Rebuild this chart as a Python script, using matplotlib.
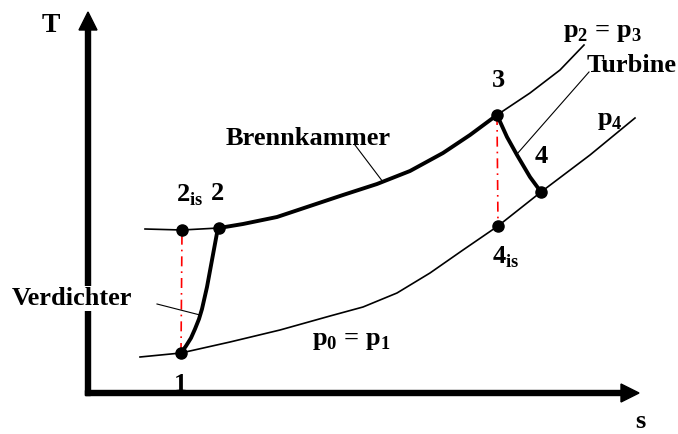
import matplotlib.pyplot as plt

plt.rcParams['font.family'] = 'Liberation Serif'
plt.rcParams['font.weight'] = 'bold'
plt.rcParams['mathtext.fontset'] = 'custom'
plt.rcParams['mathtext.rm'] = 'Liberation Serif:bold'
plt.rcParams['mathtext.bf'] = 'Liberation Serif:bold'

# state points (s, T) in diagram units, origin at the axis corner
pts = {'1': (93, 40), '2is': (94, 163), '2': (131, 165),
       '3': (409, 278), '4': (453, 201), '4is': (410, 167)}

# isobar p0 = p1 (= p4)
s_low = [52, 93, 142, 192, 242, 275, 309, 342, 375, 410, 453, 502, 547]
T_low = [36, 40, 51, 63, 77, 86, 100, 120, 143, 167, 201, 238, 275]

# isobar p2 = p3
s_high_a = [57, 94, 131]
T_high_a = [164, 163, 165]
s_burn = [131, 155, 189, 222, 255, 289, 322, 355, 382, 409]
T_burn = [165, 169, 176, 187, 198, 209, 222, 240, 258, 278]
s_high_b = [409, 442, 472, 496]
T_high_b = [278, 300, 323, 348]

# compressor 1 -> 2 and turbine 3 -> 4
s_comp = [93, 98, 103, 107, 111, 114, 119, 124, 129, 131]
T_comp = [40, 47, 55, 64, 74, 84, 106, 133, 160, 165]
s_turb = [409, 419, 429, 442, 453]
T_turb = [278, 256, 238, 216, 201]

fig = plt.figure(figsize=(6.78, 4.34), dpi=100)
ax = fig.add_axes([0, 0, 1, 1])
ax.set_xlim(-88, 590)
ax.set_ylim(-41, 393)
ax.axis('off')

# axes with arrows
ax.arrow(0, -2.5, 0, 383.5, width=5, head_width=18, head_length=18,
         length_includes_head=True, color='k', zorder=1)
ax.arrow(-2.5, 0, 553.5, 0, width=5, head_width=18, head_length=18,
         length_includes_head=True, color='k', zorder=1)

thin = 1.2
thick = 2.8
ax.plot(s_low, T_low, 'k', lw=thin, zorder=2)
ax.plot(s_high_a, T_high_a, 'k', lw=thin, zorder=2)
ax.plot(s_high_b, T_high_b, 'k', lw=thin, zorder=2)
ax.plot(s_burn, T_burn, 'k', lw=thick, zorder=2, solid_capstyle='round',
        solid_joinstyle='round')
ax.plot(s_comp, T_comp, 'k', lw=thick, zorder=2, solid_capstyle='round',
        solid_joinstyle='round')
ax.plot(s_turb, T_turb, 'k', lw=thick, zorder=2, solid_capstyle='round',
        solid_joinstyle='round')

# isentropic lines
for a, b in [('1', '2is'), ('3', '4is')]:
    ax.plot([pts[a][0], pts[b][0]], [pts[a][1], pts[b][1]], color='red',
            lw=1.2, ls=(0, (6, 3, 1, 3)), zorder=2)

for k, (s, T) in pts.items():
    ax.plot(s, T, 'o', color='k', ms=8, zorder=3)

# leader lines
ax.plot([69, 112], [89, 78], 'k', lw=0.8, zorder=2)
ax.plot([267, 295], [248, 211], 'k', lw=0.8, zorder=2)
ax.plot([501, 429], [321, 239], 'k', lw=0.8, zorder=2)

fs = 19
ax.text(-37, 367, 'T', fontsize=20, ha='center', va='center')
ax.text(552, -35, 's', fontsize=fs, ha='center', va='baseline')
ax.text(93, 2, '1', fontsize=fs, ha='center', va='baseline', zorder=0)
ax.text(88, 191, r'2$_\mathbf{is}$', fontsize=fs, ha='left', va='baseline')
ax.text(130, 193, '2', fontsize=fs, ha='center', va='baseline')
ax.text(410, 306, '3', fontsize=fs, ha='center', va='baseline')
ax.text(453, 230, '4', fontsize=fs, ha='center', va='baseline')
ax.text(404, 130, r'4$_\mathbf{is}$', fontsize=fs, ha='left', va='baseline')
ax.text(138, 248, 'Brennkammer', fontsize=fs, ha='left', va='baseline')
ax.text(499, 321, 'Turbine', fontsize=fs, ha='left', va='baseline')
ax.text(475, 356, r'p$_\mathbf{2}$ = p$_\mathbf{3}$', fontsize=fs, ha='left', va='baseline')
ax.text(509, 268, r'p$_\mathbf{4}$', fontsize=fs, ha='left', va='baseline')
ax.text(224, 48, r'p$_\mathbf{0}$ = p$_\mathbf{1}$', fontsize=fs, ha='left', va='baseline')
ax.text(-76, 88, 'Verdichter', fontsize=fs, ha='left', va='baseline', zorder=4,
        bbox=dict(facecolor='white', edgecolor='none', pad=0.5))

fig.savefig('out.png', dpi=100)
